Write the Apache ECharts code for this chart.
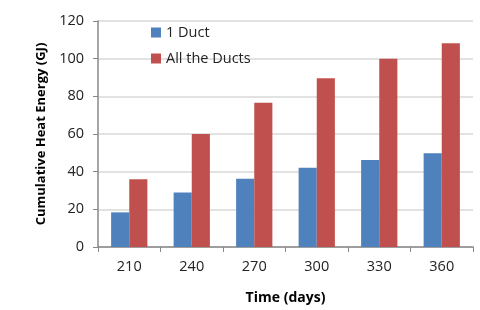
<!DOCTYPE html>
<html>
<head>
<meta charset="utf-8">
<script src="https://cdn.jsdelivr.net/npm/echarts@6/dist/echarts.min.js"></script>
<style>html,body{margin:0;padding:0;background:#fff;}#c{width:480px;height:310px;}</style>
</head>
<body>
<div id="c"></div>
<script>
const categories = ['210', '240', '270', '300', '330', '360'];
const oneDuct = [18.4, 29, 36.2, 42.1, 46.2, 49.8];
const allDucts = [36, 60, 76.6, 89.6, 100, 108.2];
const seriesNames = ['1 Duct', 'All the Ducts'];
const yTicks = { min: 0, max: 120, interval: 20 };

const font = 'Open Sans, Liberation Sans, sans-serif';
const chart = echarts.init(document.getElementById('c'), null, { renderer: 'canvas' });
chart.setOption({
  animation: false,
  backgroundColor: '#fff',
  textStyle: { fontFamily: font },
  grid: { left: 98, right: 7, top: 21, bottom: 63, containLabel: false, outerBoundsMode: 'none' },
  legend: {
    orient: 'vertical',
    left: 146,
    top: 20,
    itemWidth: 10,
    itemHeight: 10,
    itemGap: 11,
    icon: 'rect',
    textStyle: { fontFamily: font, fontSize: 14.5, color: '#222' },
    data: seriesNames
  },
  xAxis: {
    type: 'category',
    data: categories,
    name: 'Time (days)',
    nameLocation: 'middle',
    nameGap: 44,
    nameTextStyle: { fontFamily: font, fontSize: 14, fontWeight: 'bold', color: '#000' },
    axisLine: { lineStyle: { color: '#888', width: 1.5 } },
    axisTick: { show: true, length: 5, lineStyle: { color: '#888' } },
    axisLabel: { fontFamily: font, fontSize: 14.5, color: '#222', margin: 12 }
  },
  yAxis: {
    type: 'value',
    min: yTicks.min,
    max: yTicks.max,
    interval: yTicks.interval,
    name: 'Cumulative Heat Energy (GJ)',
    nameLocation: 'middle',
    nameGap: 49,
    nameTextStyle: { fontFamily: font, fontSize: 13, fontWeight: 'bold', color: '#000' },
    axisLine: { show: true, lineStyle: { color: '#888', width: 1.5 } },
    axisTick: { show: true, length: 5, lineStyle: { color: '#888' } },
    axisLabel: { fontFamily: font, fontSize: 14.5, color: '#222', margin: 14 },
    splitLine: { lineStyle: { color: '#d9d9d9', width: 1.5 } }
  },
  series: [
    {
      name: seriesNames[0], type: 'bar', data: oneDuct,
      itemStyle: { color: '#4F81BD' },
      barGap: '0%', barCategoryGap: '42%'
    },
    {
      name: seriesNames[1], type: 'bar', data: allDucts,
      itemStyle: { color: '#C0504D' },
      barGap: '0%', barCategoryGap: '42%'
    }
  ]
});
</script>
</body>
</html>
